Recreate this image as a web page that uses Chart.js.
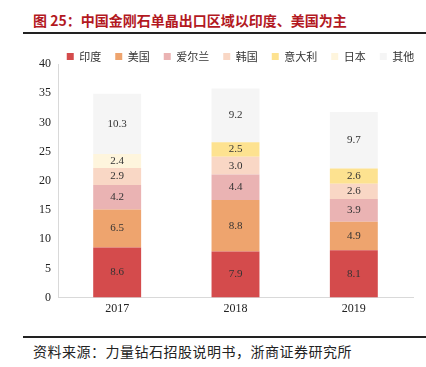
<!DOCTYPE html>
<html>
<head>
<meta charset="utf-8">
<script src="https://cdn.jsdelivr.net/npm/chart.js@4"></script>
<style>
  body { margin: 0; width: 426px; height: 367px; background: #fff; position: relative; overflow: hidden; }
  #title { position: absolute; left: 33px; top: 10px; font: bold 14px "Noto Sans CJK SC"; color: #b3191f; white-space: nowrap; }
  #topline { position: absolute; left: 23px; top: 32px; width: 403px; height: 2px; background: #222; }
  #box { position: absolute; left: 0; top: 24px; width: 426px; height: 296px; }
  #botline { position: absolute; left: 23px; top: 336px; width: 403px; height: 2px; background: #222; }
  #source { position: absolute; left: 33px; top: 341px; font: 14px "Noto Sans CJK SC"; letter-spacing: 0.5px; color: #222; white-space: nowrap; }
</style>
</head>
<body>
<div id="title">图 25：中国金刚石单晶出口区域以印度、美国为主</div>
<div id="topline"></div>
<div id="box"><canvas id="chart"></canvas></div>
<div id="botline"></div>
<div id="source">资料来源：力量钻石招股说明书，浙商证券研究所</div>
<script>
const years = ["2017", "2018", "2019"];
const india = [8.6, 7.9, 8.1];
const usa = [6.5, 8.8, 4.9];
const ireland = [4.2, 4.4, 3.9];
const korea = [2.9, 3.0, 2.6];
const italy = [0, 2.5, 2.6];
const japan = [2.4, 0, 0];
const others = [10.3, 9.2, 9.7];

const valueLabels = {
  id: "valueLabels",
  afterDatasetsDraw(chart) {
    const ctx = chart.ctx;
    ctx.save();
    ctx.font = '11px "Liberation Serif"';
    ctx.fillStyle = "#333";
    ctx.textAlign = "center";
    ctx.textBaseline = "middle";
    chart.data.datasets.forEach((ds, i) => {
      chart.getDatasetMeta(i).data.forEach((bar, j) => {
        const v = ds.data[j];
        if (!v) return;
        ctx.fillText(v.toFixed(1), bar.x, (bar.y + bar.base) / 2);
      });
    });
    ctx.restore();
  },
};

// nudge the legend a little right and down, like the source picture
const legendNudge = {
  id: "legendNudge",
  afterLayout(chart) {
    const lg = chart.legend;
    lg.left += 18;
    lg.right += 18;
    lg.top += 8;
    lg.bottom += 8;
  },
};

const ctx = document.getElementById("chart").getContext("2d");
new Chart(ctx, {
  type: "bar",
  data: {
    labels: years,
    datasets: [
      { label: "印度", data: india, backgroundColor: "#d44b4c" },
      { label: "美国", data: usa, backgroundColor: "#eea46e" },
      { label: "爱尔兰", data: ireland, backgroundColor: "#eab3b3" },
      { label: "韩国", data: korea, backgroundColor: "#f9d7c5" },
      { label: "意大利", data: italy, backgroundColor: "#fde290" },
      { label: "日本", data: japan, backgroundColor: "#fef5dd" },
      { label: "其他", data: others, backgroundColor: "#f5f5f5" },
    ],
  },
  options: {
    responsive: true,
    maintainAspectRatio: false,
    animation: false,
    layout: { padding: { left: 32, right: 13, top: 5, bottom: 0 } },
    datasets: { bar: { barPercentage: 0.405, categoryPercentage: 1 } },
    plugins: {
      legend: {
        position: "top",
        labels: {
          boxWidth: 7,
          boxHeight: 7,
          padding: 14,
          color: "#333",
          font: { family: '"Noto Sans CJK SC"', size: 11 },
        },
      },
      tooltip: { enabled: false },
    },
    scales: {
      x: {
        stacked: true,
        grid: { display: false, drawTicks: false },
        border: { color: "#d9d9d9" },
        ticks: { padding: 4, color: "#222", font: { family: '"Liberation Serif"', size: 12 } },
      },
      y: {
        stacked: true,
        min: 0,
        max: 40,
        grid: { display: false, drawTicks: false },
        border: { color: "#d9d9d9" },
        ticks: { stepSize: 5, padding: 7, color: "#222", font: { family: '"Liberation Serif"', size: 12 } },
      },
    },
  },
  plugins: [valueLabels, legendNudge],
});
</script>
</body>
</html>
